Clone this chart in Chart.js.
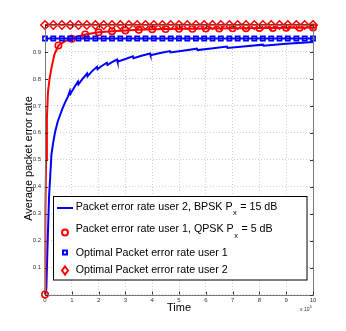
<!DOCTYPE html>
<html>
<head>
<meta charset="utf-8">
<script src="https://cdn.jsdelivr.net/npm/chart.js@4"></script>
<style>
  html, body { margin: 0; padding: 0; background: #fff; }
</style>
</head>
<body>
<canvas id="c" width="346" height="331"></canvas>
<script>
// time axis is in units of 10^4
const user2Time = [0, 0.05, 0.09, 0.15, 0.24, 0.3, 0.37, 0.47, 0.56, 0.65, 0.75, 0.86,
  0.93, 0.95, 1.1, 1.23, 1.25, 1.4, 1.57, 1.59, 1.75, 1.94, 1.96, 2.1, 2.31, 2.33, 2.5,
  2.69, 2.71, 3.0, 3.28, 3.3, 3.6, 3.92, 3.94, 4.3, 4.66, 4.68, 5.2, 5.67, 5.69, 6.2,
  6.79, 6.81, 7.5, 8.13, 8.15, 9.0, 10];
const user2Rate = [0, 0.02, 0.165, 0.36, 0.52, 0.56, 0.6, 0.64, 0.665, 0.69, 0.713, 0.735,
  0.755, 0.745, 0.77, 0.79, 0.78, 0.8, 0.82, 0.81, 0.828, 0.845, 0.836, 0.847, 0.86, 0.852, 0.862,
  0.872, 0.864, 0.874, 0.884, 0.877, 0.886, 0.894, 0.888, 0.896, 0.903, 0.898, 0.905, 0.912, 0.907, 0.913,
  0.92, 0.915, 0.921, 0.927, 0.923, 0.93, 0.937];

const user1Time = [0, 0.01, 0.02, 0.04, 0.07, 0.11, 0.17, 0.24, 0.35, 0.5, 0.75, 1.0, 1.25, 1.5,
  2.0, 2.5, 3.0, 3.5, 4.0, 4.5, 5, 5.5, 6, 6.5, 7, 7.5, 8, 8.5, 9, 9.5, 10];
const user1Rate = [0, 0.15, 0.3, 0.5, 0.65, 0.75, 0.8, 0.84, 0.89, 0.924, 0.94, 0.949, 0.958, 0.965,
  0.973, 0.977, 0.98, 0.982, 0.984, 0.985, 0.986, 0.986, 0.987, 0.987, 0.988, 0.988, 0.989, 0.989, 0.99, 0.99, 0.991];

const optimalTime = [0, 0.31, 0.63, 0.94, 1.25, 1.56, 1.88, 2.19, 2.5, 2.81, 3.13, 3.44, 3.75,
  4.06, 4.38, 4.69, 5, 5.31, 5.63, 5.94, 6.25, 6.56, 6.88, 7.19, 7.5, 7.81, 8.13, 8.44, 8.75,
  9.06, 9.38, 9.69, 10];
const optimalUser1 = [0.95, 0.95, 0.95, 0.95, 0.95, 0.95, 0.95, 0.95, 0.95, 0.95, 0.95, 0.95, 0.95,
  0.95, 0.95, 0.95, 0.95, 0.95, 0.95, 0.95, 0.95, 0.95, 0.95, 0.95, 0.95, 0.95, 0.95, 0.95, 0.95,
  0.95, 0.95, 0.95, 0.95];
const optimalUser2 = [1, 1, 1, 1, 1, 1, 1, 1, 1, 1, 1, 1, 1,
  1, 1, 1, 1, 1, 1, 1, 1, 1, 1, 1, 1, 1, 1, 1, 1,
  1, 1, 1, 1];

const seriesNames = [
  'Packet error rate user 2, BPSK P_x = 15 dB',
  'Packet error rate user 1, QPSK P_x = 5 dB',
  'Optimal Packet error rate user 1',
  'Optimal Packet error rate user 2'
];
const xTitle = 'Time';
const yTitle = 'Average packet error rate';

const BLUE = '#0000ff';
const RED = '#ff0000';
const FONT = '"Liberation Sans", Arial, Helvetica, sans-serif';

const zip = (xs, ys) => xs.map((x, i) => ({ x: x, y: ys[i] }));

// frame, inner ticks, titles, exponent and legend
const decorations = {
  id: 'decorations',
  afterDraw(chart) {
    const ctx = chart.ctx;
    const a = chart.chartArea;
    const xs = chart.scales.x, ys = chart.scales.y;
    ctx.save();
    ctx.strokeStyle = '#7a7a7a';
    ctx.lineWidth = 1;
    ctx.strokeRect(Math.round(a.left) + 0.5, Math.round(a.top) + 0.5,
      Math.round(a.right - a.left), Math.round(a.bottom - a.top));
    ctx.strokeStyle = '#333';
    ctx.beginPath();
    xs.ticks.forEach(t => {
      const px = Math.round(xs.getPixelForValue(t.value)) + 0.5;
      ctx.moveTo(px, a.bottom); ctx.lineTo(px, a.bottom - 3);
      ctx.moveTo(px, a.top); ctx.lineTo(px, a.top + 3);
    });
    ys.ticks.forEach(t => {
      const py = Math.round(ys.getPixelForValue(t.value)) + 0.5;
      ctx.moveTo(a.left, py); ctx.lineTo(a.left + 3, py);
      ctx.moveTo(a.right, py); ctx.lineTo(a.right - 3, py);
    });
    ctx.stroke();

    // axis titles
    ctx.fillStyle = '#000';
    ctx.font = '11px ' + FONT;
    ctx.textAlign = 'center';
    ctx.textBaseline = 'middle';
    ctx.fillText(xTitle, (a.left + a.right) / 2, 307.5);
    ctx.save();
    ctx.translate(28.5, 158.5);
    ctx.rotate(-Math.PI / 2);
    ctx.fillText(yTitle, 0, 0);
    ctx.restore();

    // x 10^4
    ctx.fillStyle = '#333';
    ctx.font = '5px ' + FONT;
    ctx.textAlign = 'left';
    ctx.fillText('x 10', 300, 309.5);
    ctx.font = '4px ' + FONT;
    ctx.fillText('4', 309.5, 307);

    // legend
    const box = { x: 53.5, y: 196.5, w: 253.5, h: 83.5 };
    ctx.fillStyle = '#fff';
    ctx.fillRect(box.x, box.y, box.w, box.h);
    ctx.strokeStyle = '#000';
    ctx.lineWidth = 1;
    ctx.strokeRect(box.x, box.y, box.w, box.h);
    const rows = [207, 229.5, 253, 270.5];
    const symY = [208, 232.5, 252.5, 270.5];
    rows.forEach((ty, i) => {
      const sy = symY[i];
      ctx.lineWidth = 2;
      if (i === 0) {
        ctx.strokeStyle = BLUE;
        ctx.beginPath(); ctx.moveTo(57, sy); ctx.lineTo(73, sy); ctx.stroke();
      } else if (i === 1) {
        ctx.strokeStyle = RED;
        ctx.beginPath(); ctx.arc(65, sy, 3, 0, Math.PI * 2); ctx.stroke();
      } else if (i === 2) {
        ctx.strokeStyle = BLUE;
        ctx.strokeRect(63, sy - 2, 4, 4);
      } else {
        ctx.strokeStyle = RED;
        ctx.beginPath();
        ctx.moveTo(65, sy - 4); ctx.lineTo(68, sy); ctx.lineTo(65, sy + 4); ctx.lineTo(62, sy);
        ctx.closePath(); ctx.stroke();
      }
      // text with optional subscript after "_"
      ctx.fillStyle = '#000';
      ctx.textAlign = 'left';
      ctx.textBaseline = 'middle';
      const parts = seriesNames[i].split('_');
      let x = 75.7;
      ctx.font = '10.7px ' + FONT;
      ctx.fillText(parts[0], x, ty);
      x += ctx.measureText(parts[0]).width + 0.5;
      if (parts.length > 1) {
        const sub = parts[1].charAt(0);
        const rest = parts[1].slice(1);
        ctx.font = '7.5px ' + FONT;
        ctx.fillText(sub, x, ty + 6);
        x += ctx.measureText(sub).width + 0.5;
        ctx.font = '10.7px ' + FONT;
        ctx.fillText(rest, x, ty);
      }
    });
    ctx.restore();
  }
};

const showEveryHalf = ctx => {
  const t = user1Time[ctx.dataIndex];
  return Math.abs(t * 2 - Math.round(t * 2)) < 1e-6 ? 3.2 : 0;
};

new Chart(document.getElementById('c'), {
  type: 'line',
  data: {
    datasets: [
      {
        label: seriesNames[0],
        data: zip(user2Time, user2Rate),
        borderColor: BLUE, borderWidth: 2, pointRadius: 0,
        tension: 0, clip: false, order: 4
      },
      {
        label: seriesNames[1],
        data: zip(user1Time, user1Rate),
        borderColor: RED, borderWidth: 2,
        pointRadius: showEveryHalf, pointStyle: 'circle',
        pointBorderColor: RED, pointBorderWidth: 1.6,
        pointBackgroundColor: 'rgba(0,0,0,0)',
        tension: 0, clip: false, order: 3
      },
      {
        label: seriesNames[2],
        data: zip(optimalTime, optimalUser1),
        borderColor: BLUE, borderWidth: 2,
        pointRadius: 3, pointStyle: 'rect',
        pointBorderColor: BLUE, pointBorderWidth: 1.6,
        pointBackgroundColor: 'rgba(0,0,0,0)',
        tension: 0, clip: false, order: 2
      },
      {
        label: seriesNames[3],
        data: zip(optimalTime, optimalUser2),
        borderColor: RED, borderWidth: 2,
        pointRadius: 4.2, pointStyle: 'rectRot',
        pointBorderColor: RED, pointBorderWidth: 1.6,
        pointBackgroundColor: 'rgba(0,0,0,0)',
        tension: 0, clip: false, order: 1
      }
    ]
  },
  options: {
    responsive: false,
    animation: false,
    devicePixelRatio: 1,
    layout: { padding: { top: 25, right: 33, left: 0, bottom: 0 } },
    plugins: { legend: { display: false }, tooltip: { enabled: false } },
    scales: {
      x: {
        type: 'linear', min: 0, max: 10,
        afterFit: s => { s.height = 36.5; },
        ticks: {
          stepSize: 1, color: '#333', padding: 2, maxRotation: 0,
          font: { size: 6, family: FONT }
        },
        grid: { color: '#cfcfcf', drawTicks: false },
        border: { display: false, dash: [1, 2] }
      },
      y: {
        min: 0, max: 1,
        afterFit: s => { s.width = 45; },
        ticks: {
          stepSize: 0.1, color: '#333', padding: 4,
          font: { size: 6, family: FONT },
          callback: v => (v <= 0.001 || v >= 0.999) ? '' : v.toFixed(1)
        },
        grid: { color: '#cfcfcf', drawTicks: false },
        border: { display: false, dash: [1, 2] }
      }
    }
  },
  plugins: [decorations]
});
</script>
</body>
</html>
